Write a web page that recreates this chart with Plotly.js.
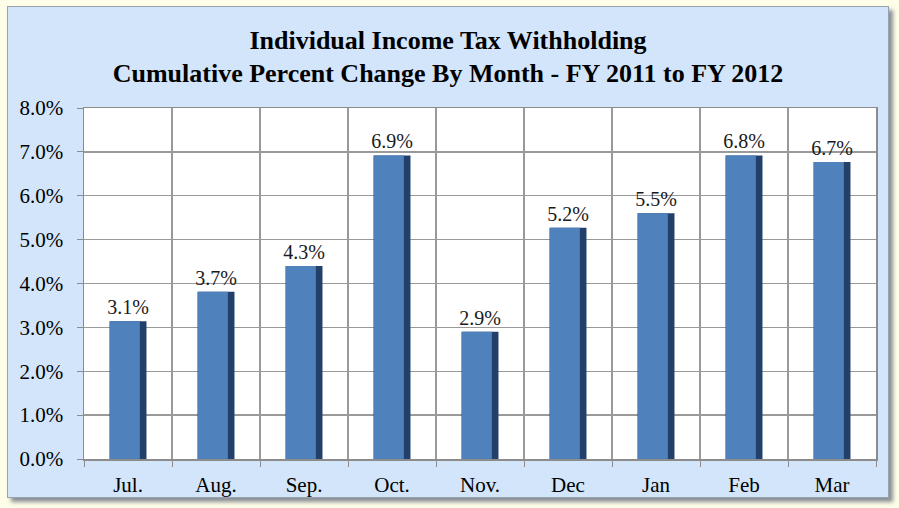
<!DOCTYPE html>
<html>
<head>
<meta charset="utf-8">
<script src="https://cdn.plot.ly/plotly-3.0.1.min.js"></script>
<style>
  html, body { margin: 0; padding: 0; background: #FEFEE8; width: 899px; height: 508px; overflow: hidden; }
  #frame {
    position: absolute; left: 7px; top: 6px; width: 880px; height: 490px;
    border: 1px solid #9aa3ad;
    box-shadow: 4px 4px 4px #8a8f96;
    background: #D3E5FA;
  }
  #chart { width: 880px; height: 490px; }
</style>
</head>
<body>
<div id="frame"><div id="chart"></div></div>
<script>
// Data
const months = ["Jul.", "Aug.", "Sep.", "Oct.", "Nov.", "Dec", "Jan", "Feb", "Mar"];
const pctChange = [3.14, 3.81, 4.40, 6.92, 2.90, 5.27, 5.60, 6.92, 6.77];
const pctLabels = ["3.1%", "3.7%", "4.3%", "6.9%", "2.9%", "5.2%", "5.5%", "6.8%", "6.7%"];
const yTickVals = [0, 1, 2, 3, 4, 5, 6, 7, 8];
const yTickText = ["0.0%", "1.0%", "2.0%", "3.0%", "4.0%", "5.0%", "6.0%", "7.0%", "8.0%"];

const serif = "'Liberation Serif', 'Times New Roman', serif";

// dark body (gives the shaded right edge)
const barShade = {
  type: "bar", x: months, y: pctChange,
  width: 0.42, offset: -0.21,
  marker: { color: "#22406A", line: { width: 0 } },
  text: pctLabels, textposition: "outside", texttemplate: "%{text}",
  constraintext: "none",
  textfont: { family: serif, size: 20, color: "#1a1a1a" },
  cliponaxis: false, hoverinfo: "skip"
};
// main face of the bar
const barFace = {
  type: "bar", x: months, y: pctChange,
  width: 0.34, offset: -0.205,
  marker: { color: "#4F81BD", line: { width: 0 } },
  hoverinfo: "skip"
};

const layout = {
  width: 880, height: 490,
  paper_bgcolor: "#D3E5FA",
  plot_bgcolor: "#FFFFFF",
  barmode: "overlay",
  showlegend: false,
  margin: { l: 76, r: 12, t: 101, b: 38 },
  title: {
    text: "<b>Individual Income Tax Withholding<br>Cumulative Percent Change By Month - FY 2011 to FY 2012</b>",
    font: { family: serif, size: 26, color: "#000000" },
    x: 0.5, xanchor: "center", y: 0.915, yanchor: "middle", yref: "container"
  },
  xaxis: {
    type: "category",
    tickson: "boundaries",
    showgrid: true, gridcolor: "#9a9a9a", gridwidth: 1.3,
    ticks: "outside", ticklen: 6, tickcolor: "#8c8c8c",
    showline: true, linecolor: "#8c8c8c", linewidth: 1.5, mirror: true,
    tickfont: { family: serif, size: 21, color: "#000000" },
    ticklabelstandoff: 6,
    fixedrange: true
  },
  yaxis: {
    range: [0, 8],
    tickvals: yTickVals, ticktext: yTickText,
    showgrid: true, gridcolor: "#9a9a9a", gridwidth: 1.3,
    ticks: "outside", ticklen: 6, tickcolor: "#8c8c8c",
    showline: true, linecolor: "#8c8c8c", linewidth: 1.5, mirror: true,
    zeroline: false,
    tickfont: { family: serif, size: 21, color: "#000000" },
    ticklabelstandoff: 9,
    fixedrange: true
  }
};

Plotly.newPlot("chart", [barShade, barFace], layout, { displayModeBar: false, staticPlot: true });
</script>
</body>
</html>
